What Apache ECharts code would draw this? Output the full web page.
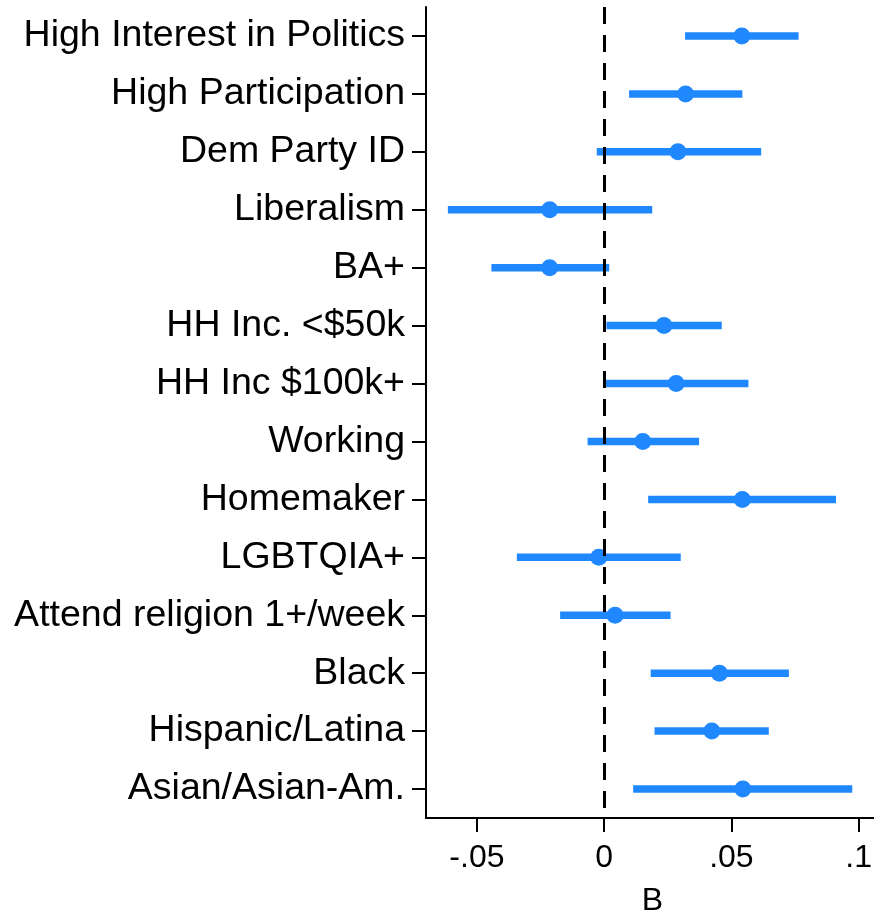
<!DOCTYPE html>
<html>
<head>
<meta charset="utf-8">
<script src="https://cdn.jsdelivr.net/npm/echarts@6/dist/echarts.min.js"></script>
<style>
  html, body { margin: 0; padding: 0; background: #fff; overflow: hidden; }
  #chart { width: 874px; height: 915px; }
</style>
</head>
<body>
<div id="chart"></div>
<script>
const categories = [
  'High Interest in Politics',
  'High Participation',
  'Dem Party ID',
  'Liberalism',
  'BA+',
  'HH Inc. <$50k',
  'HH Inc $100k+',
  'Working',
  'Homemaker',
  'LGBTQIA+',
  'Attend religion 1+/week',
  'Black',
  'Hispanic/Latina',
  'Asian/Asian-Am.'
];
const estimates = [0.0541, 0.0320, 0.0290, -0.0214, -0.0214, 0.0235, 0.0283, 0.0152, 0.0543, -0.0021, 0.0043, 0.0453, 0.0423, 0.0545];
const lower     = [0.0318, 0.0098, -0.0029, -0.0614, -0.0443, 0.0009, 0.0002, -0.0065, 0.0173, -0.0343, -0.0173, 0.0183, 0.0198, 0.0114];
const upper     = [0.0764, 0.0543, 0.0617, 0.0189, 0.0020, 0.0462, 0.0567, 0.0373, 0.0911, 0.0301, 0.0261, 0.0726, 0.0647, 0.0975];
const xTickValues = [-0.05, 0, 0.05, 0.1];
const xTickLabels = ['-.05', '0', '.05', '.1'];
const xAxisName = 'B';

const blue = '#1f88ff';
const font = '"Liberation Sans", Arial, Helvetica, sans-serif';

const chart = echarts.init(document.getElementById('chart'), null, { renderer: 'canvas', width: 874, height: 915 });

const ciData = categories.map((c, i) => [lower[i], upper[i], i]);
const ptData = categories.map((c, i) => [estimates[i], c]);

chart.setOption({
  animation: false,
  backgroundColor: '#fff',
  grid: { left: 426, top: 7, width: 453, height: 811, containLabel: false, outerBoundsMode: 'none' },
  xAxis: {
    type: 'value',
    min: -0.07,
    max: 0.108,
    name: xAxisName,
    nameLocation: 'middle',
    nameGap: 67,
    nameTextStyle: { fontSize: 32, color: '#000', fontFamily: font },
    splitLine: { show: false },
    axisLine: { show: true, onZero: false, lineStyle: { color: '#000', width: 2 } },
    axisTick: { show: true, length: 14, lineStyle: { color: '#000', width: 2 }, customValues: xTickValues },
    axisLabel: {
      fontSize: 32, color: '#000', fontFamily: font, margin: 24,
      customValues: xTickValues,
      formatter: function (v) {
        for (let k = 0; k < xTickValues.length; k++) {
          if (Math.abs(xTickValues[k] - v) < 1e-9) return xTickLabels[k];
        }
        return '';
      }
    }
  },
  yAxis: {
    type: 'category',
    data: categories,
    inverse: true,
    boundaryGap: true,
    axisLine: { show: true, onZero: false, lineStyle: { color: '#000', width: 2 } },
    axisTick: { show: true, alignWithLabel: true, length: 14, lineStyle: { color: '#000', width: 2 } },
    axisLabel: { fontSize: 37.5, color: '#000', fontFamily: font, margin: 21, interval: 0 },
    splitLine: { show: false }
  },
  series: [
    {
      type: 'scatter',
      data: [],
      z: 1,
      silent: true,
      markLine: {
        silent: true,
        symbol: ['none', 'none'],
        label: { show: false },
        lineStyle: { color: '#000', width: 3, type: [17, 11] },
        data: [{ xAxis: 0 }]
      }
    },
    {
      type: 'custom',
      z: 3,
      data: ciData,
      encode: { x: [0, 1], y: 2 },
      renderItem: function (params, api) {
        const cat = api.value(2);
        const p1 = api.coord([api.value(0), cat]);
        const p2 = api.coord([api.value(1), cat]);
        return {
          type: 'line',
          shape: { x1: p1[0], y1: p1[1], x2: p2[0], y2: p2[1] },
          style: { stroke: blue, lineWidth: 7.5, lineCap: 'butt' }
        };
      }
    },
    {
      type: 'scatter',
      z: 4,
      data: ptData,
      symbol: 'circle',
      symbolSize: 17,
      itemStyle: { color: blue, opacity: 1 }
    }
  ]
});
</script>
</body>
</html>
